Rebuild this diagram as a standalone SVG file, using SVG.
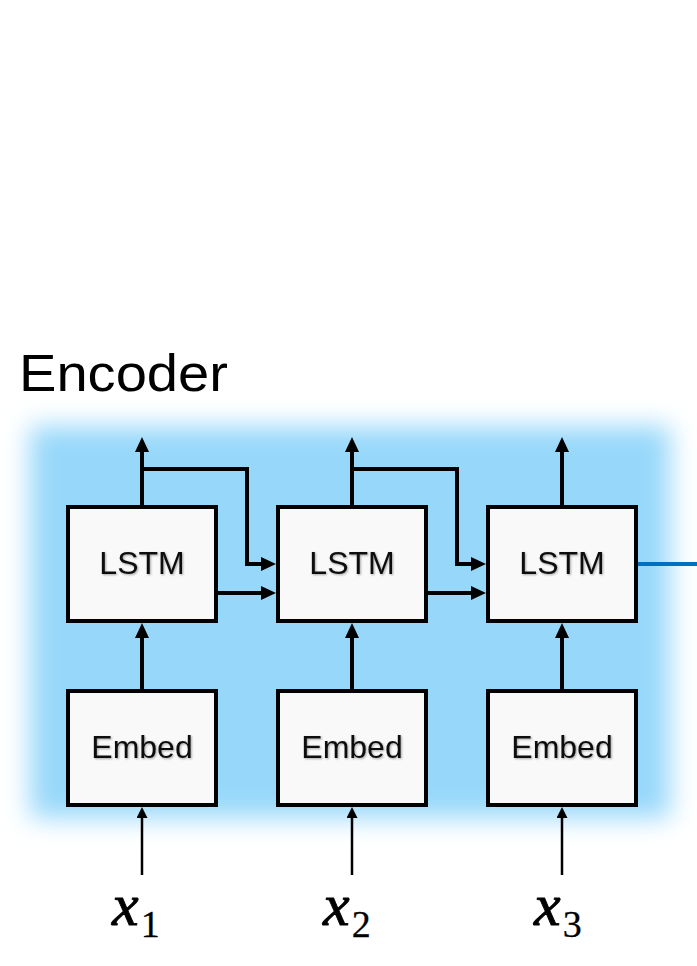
<svg xmlns="http://www.w3.org/2000/svg" width="697" height="966" viewBox="0 0 697 966">
  <style>
    .box { fill: #F9F9F9; stroke: #000; stroke-width: 4; }
    .lbl { font-family: "Liberation Sans", Arial, sans-serif; font-size: 32px; fill: #111; text-anchor: middle; }
    .thick { fill: none; stroke: #000; stroke-width: 4; stroke-linejoin: miter; }
    .thin { fill: none; stroke: #000; stroke-width: 2.5; }
    .math { font-family: "Liberation Serif", "Times New Roman", serif; fill: #000; stroke: #000; stroke-width: 0.9; }
  </style>
  <defs>
    <filter id="glow" x="-20%" y="-20%" width="140%" height="140%">
      <feGaussianBlur stdDeviation="13"/>
    </filter>
    <filter id="shadow" x="-10%" y="-20%" width="130%" height="150%">
      <feDropShadow dx="1" dy="1" stdDeviation="0.8" flood-color="#000" flood-opacity="0.35"/>
    </filter>
    <marker id="ah" markerUnits="userSpaceOnUse" markerWidth="15" markerHeight="14" refX="0" refY="7" orient="auto">
      <path d="M0,0 L15,7 L0,14 z" fill="#000"/>
    </marker>
    <marker id="ahs" markerUnits="userSpaceOnUse" markerWidth="11" markerHeight="11" refX="0" refY="5.5" orient="auto">
      <path d="M0,0 L11,5.5 L0,11 z" fill="#000"/>
    </marker>
  </defs>

  <rect x="0" y="0" width="697" height="966" fill="#FFFFFF"/>

  <g id="encoder-background">
    <rect x="30" y="426" width="640" height="392" fill="#97D8FA" filter="url(#glow)"/>
  </g>

  <g id="title">
    <text transform="translate(19,391) scale(1.1,1)" x="0" y="0" font-family="'Liberation Sans', Arial, sans-serif" font-size="51" fill="#000">Encoder</text>
  </g>

  <g id="connectors">
    <path class="thick" d="M142,505 V452" marker-end="url(#ah)"/>
    <path class="thick" d="M352,505 V452" marker-end="url(#ah)"/>
    <path class="thick" d="M562,505 V452" marker-end="url(#ah)"/>
    <path class="thick" d="M142,469 H247 V564 H261" marker-end="url(#ah)"/>
    <path class="thick" d="M352,469 H457 V564 H471" marker-end="url(#ah)"/>
    <path class="thick" d="M218,593 H261" marker-end="url(#ah)"/>
    <path class="thick" d="M428,593 H471" marker-end="url(#ah)"/>
    <path class="thick" d="M142,689 V638" marker-end="url(#ah)"/>
    <path class="thick" d="M352,689 V638" marker-end="url(#ah)"/>
    <path class="thick" d="M562,689 V638" marker-end="url(#ah)"/>
    <path class="thin" d="M142,875 V818" marker-end="url(#ahs)"/>
    <path class="thin" d="M352,875 V818" marker-end="url(#ahs)"/>
    <path class="thin" d="M562,875 V818" marker-end="url(#ahs)"/>
    <path d="M638,564 H697" fill="none" stroke="#0070C0" stroke-width="4"/>
  </g>

  <g id="lstm1">
    <rect class="box" x="68" y="507" width="148" height="114"/>
    <text class="lbl" x="142" y="574" filter="url(#shadow)">LSTM</text>
  </g>
  <g id="lstm2">
    <rect class="box" x="278" y="507" width="148" height="114"/>
    <text class="lbl" x="352" y="574" filter="url(#shadow)">LSTM</text>
  </g>
  <g id="lstm3">
    <rect class="box" x="488" y="507" width="148" height="114"/>
    <text class="lbl" x="562" y="574" filter="url(#shadow)">LSTM</text>
  </g>

  <g id="embed1">
    <rect class="box" x="68" y="691" width="148" height="114"/>
    <text class="lbl" x="142" y="758" filter="url(#shadow)">Embed</text>
  </g>
  <g id="embed2">
    <rect class="box" x="278" y="691" width="148" height="114"/>
    <text class="lbl" x="352" y="758" filter="url(#shadow)">Embed</text>
  </g>
  <g id="embed3">
    <rect class="box" x="488" y="691" width="148" height="114"/>
    <text class="lbl" x="562" y="758" filter="url(#shadow)">Embed</text>
  </g>

  <g id="x1">
    <text class="math" x="112" y="925"><tspan font-style="italic" font-size="60">x</tspan><tspan font-size="38" dy="12" dx="2" stroke-width="0.3">1</tspan></text>
  </g>
  <g id="x2">
    <text class="math" x="323" y="925"><tspan font-style="italic" font-size="60">x</tspan><tspan font-size="38" dy="12" dx="2" stroke-width="0.3">2</tspan></text>
  </g>
  <g id="x3">
    <text class="math" x="534" y="925"><tspan font-style="italic" font-size="60">x</tspan><tspan font-size="38" dy="12" dx="2" stroke-width="0.3">3</tspan></text>
  </g>
</svg>
